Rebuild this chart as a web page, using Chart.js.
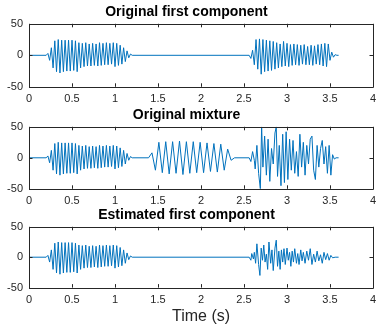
<!DOCTYPE html>
<html>
<head>
<meta charset="utf-8">
<script src="https://cdn.jsdelivr.net/npm/chart.js@4.4.1/dist/chart.umd.min.js"></script>
<style>
  html, body { margin: 0; padding: 0; background: #fff; }
  body { width: 377px; height: 324px; position: relative; overflow: hidden; }
  .panel { position: absolute; left: 0; width: 377px; }
</style>
</head>
<body>
<div class="panel" style="top:0px;height:112px"><canvas id="c1"></canvas></div>
<div class="panel" style="top:103px;height:111px"><canvas id="c2"></canvas></div>
<div class="panel" style="top:203px;height:123px"><canvas id="c3"></canvas></div>
<script>
// axes
const xTicks = [0, 0.5, 1, 1.5, 2, 2.5, 3, 3.5, 4];
const yTicks = [-50, 0, 50];
const titles = ["Original first component", "Original mixture", "Estimated first component"];

// first burst (same in the three plots), one value every 0.02 s from 0.2 s
const burstAStart = 0.2;
const burstAStep = 0.02;
const burstA = [0, 3, -8, 12, -20, 23, -26, 25, -28, 24, -26, 24, -25, 24, -25, 24, -24, 23, -26, 20,
  -20, 19, -18, 20, -17, 18, -17, 19, -16, 18, -17, 20, -16, 19, -15, 20, -15, 19, -14, 20,
  -18, 19, -16, 16, -14, 12, -10, 7, -4, 2, 0];

// second burst of the first component, from 2.56 s
const burstBStart = 2.56;
const burstBStep = 0.02;
const burstB = [0, -5, 8, -15, 25, -22, 26, -30, 25, -26, 24, -25, 23, -24, 22, -22, 20, -20, 18, -18,
  22, -17, 19, -18, 17, -16, 18, -15, 17, -16, 16, -14, 17, -15, 14, -15, 16, -16, 15, -14,
  17, -15, 18, -17, 19, -18, 18, -8, 5, -3, 1, 0];

// slower burst of the mixture, from 1.39 s
const burstMidStart = 1.39;
const burstMidStep = 0.04;
const burstMid = [0, 8, -20, 25, -24, 26, -26, 26, -25, 27, -27, 26, -25, 26, -24, 25, -24, 24, -22, 23,
  -23, 22, -20, 14, -4, 0];

// last part of the mixture
const mixEndTimes = [2.56, 2.58, 2.60, 2.62, 2.63, 2.65, 2.67, 2.69, 2.705, 2.72, 2.74, 2.76, 2.78, 2.80,
  2.82, 2.84, 2.86, 2.875, 2.89, 2.91, 2.93, 2.95, 2.97, 2.99, 3.01, 3.03, 3.05, 3.07, 3.09, 3.11,
  3.13, 3.15, 3.17, 3.19, 3.21, 3.23, 3.25, 3.27, 3.29, 3.31, 3.33, 3.35, 3.37, 3.39, 3.41, 3.43,
  3.45, 3.47, 3.49, 3.51, 3.53, 3.55, 3.57, 3.60];
const mixEndValues = [0, -6, 10, -4, -18, 20, -25, -50, 50, -15, 35, -28, 30, -38,
  15, -10, 40, 50, -30, 20, -45, 38, -40, 42, -35, 30, -20, 28, -25, 10,
  -30, 38, -15, 25, -28, 20, -10, 30, 35, -20, -35, 20, -15, 15, 28, -10,
  18, -25, 20, -28, 5, -2, 0, 0];

// last part of the estimate
const estEndTimes = [2.56, 2.58, 2.59, 2.61, 2.62, 2.635, 2.65, 2.67, 2.685, 2.70, 2.715, 2.73, 2.745,
  2.76, 2.775, 2.79, 2.81, 2.825, 2.84, 2.86, 2.875, 2.89, 2.905, 2.92, 2.935, 2.95, 2.965, 2.98,
  3.00, 3.015, 3.03, 3.045, 3.06, 3.075, 3.09, 3.11, 3.125, 3.14, 3.16, 3.175, 3.19, 3.21, 3.23,
  3.25, 3.27, 3.29, 3.31, 3.33, 3.35, 3.37, 3.39, 3.41, 3.43, 3.45, 3.47, 3.49, 3.51, 3.53, 3.56, 3.60];
const estEndValues = [0, -5, 6, -3, 8, -10, 22, -12, -30, 15, -5, 20, -8,
  5, -20, 25, -10, 12, -22, 15, 28, -15, 10, -20, 12, -8, 14, -12,
  15, -5, 8, -15, 10, -8, 14, -10, 6, -12, 12, -6, 8, -10, 10,
  -5, 14, -12, 5, -8, 10, -6, 4, -10, 8, -4, 6, -5, 3, -1, 0, 0];

const lineColor = "#0072BD";
const axisColor = "#262626";
const fontFamily = "'Liberation Sans', Arial, sans-serif";

function stepped(start, step, values) {
  return values.map((v, i) => ({ x: +(start + i * step).toFixed(3), y: v }));
}
function paired(times, values) {
  return times.map((t, i) => ({ x: t, y: values[i] }));
}

const series1 = [{ x: 0, y: 0 }].concat(stepped(burstAStart, burstAStep, burstA),
  stepped(burstBStart, burstBStep, burstB), [{ x: 3.6, y: 0 }]);
const series2 = [{ x: 0, y: 0 }].concat(stepped(burstAStart, burstAStep, burstA),
  stepped(burstMidStart, burstMidStep, burstMid), paired(mixEndTimes, mixEndValues));
const series3 = [{ x: 0, y: 0 }].concat(stepped(burstAStart, burstAStep, burstA),
  paired(estEndTimes, estEndValues));

// box + inward ticks like matlab
const matlabBox = {
  id: "matlabBox",
  afterDatasetsDraw(chart) {
    const ctx = chart.ctx;
    const a = chart.chartArea;
    const xs = chart.scales.x, ys = chart.scales.y;
    const len = 3.5;
    ctx.save();
    ctx.strokeStyle = axisColor;
    ctx.lineWidth = 1;
    ctx.beginPath();
    ctx.rect(Math.round(a.left) + 0.5, Math.round(a.top) + 0.5,
      Math.round(a.right - a.left), Math.round(a.bottom - a.top));
    xTicks.forEach(v => {
      const px = Math.round(xs.getPixelForValue(v)) + 0.5;
      ctx.moveTo(px, a.bottom); ctx.lineTo(px, a.bottom - len);
      ctx.moveTo(px, a.top); ctx.lineTo(px, a.top + len);
    });
    yTicks.forEach(v => {
      const py = Math.round(ys.getPixelForValue(v)) + 0.5;
      ctx.moveTo(a.left, py); ctx.lineTo(a.left + len, py);
      ctx.moveTo(a.right, py); ctx.lineTo(a.right - len, py);
    });
    ctx.stroke();
    ctx.restore();
  }
};

function makeChart(id, title, data, withXTitle) {
  return new Chart(document.getElementById(id), {
    type: "line",
    data: {
      datasets: [{
        data: data,
        borderColor: lineColor,
        borderWidth: 1,
        pointRadius: 0,
        tension: 0,
        fill: false
      }]
    },
    options: {
      responsive: true,
      maintainAspectRatio: false,
      animation: false,
      events: [],
      layout: { padding: { left: 0, right: 4, top: 0, bottom: 0 } },
      plugins: {
        legend: { display: false },
        tooltip: { enabled: false },
        title: {
          display: true,
          text: title,
          color: "#000",
          font: { family: fontFamily, size: 14, weight: "bold" },
          padding: { top: 4, bottom: 3 }
        }
      },
      scales: {
        x: {
          type: "linear",
          min: 0,
          max: 4,
          afterBuildTicks: s => { s.ticks = xTicks.map(v => ({ value: v })); },
          afterFit: s => { s.paddingRight = 0; s.paddingLeft = 0; },
          grid: { display: false, drawTicks: false },
          border: { display: false },
          ticks: {
            color: axisColor,
            padding: 6,
            maxRotation: 0,
            callback: v => String(v),
            font: { family: fontFamily, size: 11 }
          },
          title: {
            display: withXTitle,
            text: "Time (s)",
            color: axisColor,
            padding: { top: -6, bottom: 0 },
            font: { family: fontFamily, size: 16 }
          }
        },
        y: {
          min: -50,
          max: 50,
          afterBuildTicks: s => { s.ticks = yTicks.map(v => ({ value: v })); },
          afterFit: s => { s.width = 29; },
          grid: { display: false, drawTicks: false },
          border: { display: false },
          ticks: {
            color: axisColor,
            padding: 6,
            callback: v => String(v),
            font: { family: fontFamily, size: 11 }
          }
        }
      }
    },
    plugins: [matlabBox]
  });
}

makeChart("c1", titles[0], series1, false);
makeChart("c2", titles[1], series2, false);
makeChart("c3", titles[2], series3, true);
</script>
</body>
</html>
